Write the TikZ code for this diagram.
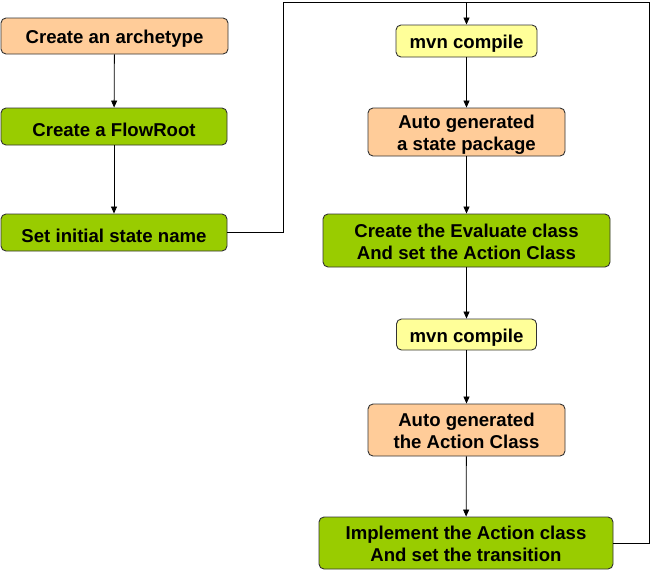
\documentclass[tikz,border=0pt]{standalone}
\usepackage{fontspec}
\setmainfont{Liberation Sans}
\usetikzlibrary{arrows.meta}
\definecolor{peach}{HTML}{FFCC99}
\definecolor{lgreen}{HTML}{99CC00}
\definecolor{lyellow}{HTML}{FFFF99}
\definecolor{edgegray}{HTML}{333333}
\tikzset{
  box/.style={draw=edgegray, line width=0.9pt, rounded corners=5pt, align=center,
    font=\fontsize{18.6}{22}\selectfont\bfseries, inner sep=0pt, text=black},
  peachbox/.style={box, fill=peach},
  greenbox/.style={box, fill=lgreen},
  yellowbox/.style={box, fill=lyellow},
  conn/.style={draw=black, line width=0.8pt},
  arr/.style={conn, -{Triangle[length=7pt,width=6pt]}},
}
\newcommand{\lowr}[1]{\raisebox{-3pt}[\height][\depth]{#1}}
\newcommand{\lowm}[1]{\raisebox{-3.5pt}[\height][\depth]{\begin{tabular}{@{}c@{}}#1\end{tabular}}}
\begin{document}
\begin{tikzpicture}[x=1pt,y=1pt]
\useasboundingbox (0,0) rectangle (652,-571);
\node[peachbox, minimum width=227pt, minimum height=36pt] (b1) at (114.5,-36) {\lowr{Create an archetype}};
\node[greenbox, minimum width=226pt, minimum height=37pt] (b2) at (114,-126.5) {\lowr{Create a FlowRoot}};
\node[greenbox, minimum width=226pt, minimum height=37pt] (b3) at (114,-232.5) {\lowr{Set initial state name}};
\node[yellowbox, minimum width=141pt, minimum height=32pt] (m1) at (466.5,-41) {\lowr{mvn compile}};
\node[peachbox, minimum width=197pt, minimum height=48pt] (a1) at (466.5,-132) {\lowm{Auto generated\\a state package}};
\node[greenbox, minimum width=287pt, minimum height=53pt] (ev) at (466.5,-240.5) {\lowm{Create the Evaluate class\\And set the Action Class}};
\node[yellowbox, minimum width=140pt, minimum height=31pt] (m2) at (466.5,-334.5) {\lowr{mvn compile}};
\node[peachbox, minimum width=197pt, minimum height=52pt] (a2) at (466.5,-430) {\lowm{Auto generated\\the Action Class}};
\node[greenbox, minimum width=294pt, minimum height=52pt] (im) at (466,-543) {\lowm{Implement the Action class\\And set the transition}};
\coordinate (tl) at (283,-2);
\coordinate (tr) at (649,-2);
\coordinate (tm) at (466.5,-2);
\draw[arr] (b1) -- (b2);
\draw[arr] (b2) -- (b3);
\draw[conn] (b3.east) -| (tl) -- (tm);
\draw[conn] (im.east) -| (tr) -- (tm);
\draw[arr] (tm) -- (m1);
\draw[arr] (m1) -- (a1);
\draw[arr] (a1) -- (ev);
\draw[arr] (ev) -- (m2);
\draw[arr] (m2) -- (a2);
\draw[arr] (a2) -- (im);
\end{tikzpicture}
\end{document}
